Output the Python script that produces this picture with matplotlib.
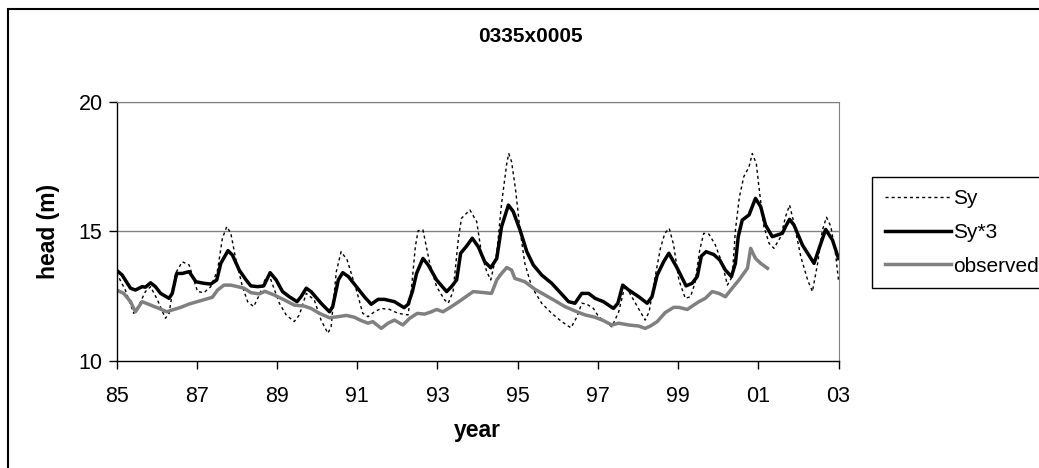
import matplotlib
matplotlib.use("Agg")
import matplotlib.pyplot as plt
from matplotlib.patches import Rectangle

plt.rcParams["font.family"] = ["Liberation Sans", "DejaVu Sans"]

# ---- data: decimal year vs. head (m) ------------------------------------
t_sy = [1985.0, 1985.22, 1985.43, 1985.56, 1985.72, 1985.85, 1986.02, 1986.22,
        1986.31, 1986.47, 1986.64, 1986.81, 1987.02, 1987.18, 1987.35, 1987.52,
        1987.64, 1987.75, 1987.85, 1987.97, 1988.14, 1988.27, 1988.42, 1988.56,
        1988.7, 1988.81, 1989.06, 1989.23, 1989.43, 1989.56, 1989.73, 1989.93,
        1990.1, 1990.27, 1990.35, 1990.48, 1990.6, 1990.75, 1990.98, 1991.14,
        1991.27, 1991.43, 1991.6, 1991.81, 1992.02, 1992.27, 1992.35, 1992.45,
        1992.52, 1992.64, 1992.81, 1992.98, 1993.18, 1993.27, 1993.39, 1993.52,
        1993.6, 1993.81, 1993.98, 1994.1, 1994.23, 1994.33, 1994.48, 1994.6,
        1994.73, 1994.78, 1994.85, 1994.95, 1995.06, 1995.18, 1995.35, 1995.6,
        1995.85, 1996.1, 1996.33, 1996.48, 1996.6, 1996.72, 1996.89, 1997.02,
        1997.18, 1997.35, 1997.52, 1997.68, 1997.89, 1998.06, 1998.18, 1998.28,
        1998.43, 1998.56, 1998.67, 1998.78, 1998.89, 1999.02, 1999.18, 1999.31,
        1999.42, 1999.54, 1999.64, 1999.77, 1999.93, 2000.1, 2000.23, 2000.35,
        2000.43, 2000.53, 2000.64, 2000.77, 2000.85, 2000.95, 2001.03, 2001.14,
        2001.27, 2001.39, 2001.56, 2001.68, 2001.78, 2001.89, 2002.06, 2002.23,
        2002.35, 2002.48, 2002.6, 2002.7, 2002.81, 2002.93, 2003.0]
h_sy = [13.4, 12.74, 11.84, 12.16, 12.68, 12.87, 12.36, 11.65,
        11.84, 13.38, 13.83, 13.71, 12.68, 12.64, 12.87, 13.51,
        14.74, 15.19, 14.93, 13.96, 12.87, 12.29, 12.1, 12.55,
        13.13, 13.3, 12.23, 11.78, 11.52, 11.78, 12.61, 12.36,
        11.58, 11.07, 11.32, 13.45, 14.22, 13.9, 12.74, 11.84,
        11.71, 11.9, 12.03, 11.99, 11.84, 11.78, 12.74, 14.41,
        15.03, 15.06, 13.77, 12.87, 12.36, 12.23, 12.68, 14.67,
        15.51, 15.83, 15.38, 14.16, 13.45, 13.13, 14.16, 16.08,
        17.63, 18.01, 17.69, 16.6, 15.06, 13.77, 12.87, 12.23,
        11.84, 11.52, 11.28, 11.71, 12.23, 12.2, 12.03, 11.71,
        11.52, 11.32, 11.9, 12.93, 12.36, 11.9, 11.58, 11.9,
        13.26, 14.35, 14.93, 15.12, 14.48, 13.13, 12.42, 12.48,
        13.0, 14.28, 14.93, 14.9, 14.48, 13.77, 12.93, 13.26,
        15.06, 16.34, 17.12, 17.5, 18.01, 17.63, 16.54, 15.19,
        14.54, 14.35, 14.8, 15.57, 16.02, 15.32, 14.03, 13.13,
        12.68, 13.77, 15.06, 15.55, 15.19, 14.09, 13.13]

t_sy3 = [1985.0, 1985.14, 1985.35, 1985.47, 1985.64, 1985.72, 1985.85, 1985.97,
         1986.1, 1986.31, 1986.39, 1986.5, 1986.64, 1986.81, 1986.98, 1987.18,
         1987.35, 1987.5, 1987.6, 1987.78, 1987.89, 1988.06, 1988.23, 1988.35,
         1988.52, 1988.67, 1988.83, 1988.98, 1989.14, 1989.31, 1989.5, 1989.6,
         1989.73, 1989.85, 1990.1, 1990.31, 1990.39, 1990.53, 1990.64, 1990.78,
         1990.98, 1991.18, 1991.35, 1991.52, 1991.68, 1991.93, 1992.17, 1992.27,
         1992.38, 1992.48, 1992.64, 1992.77, 1992.98, 1993.23, 1993.35, 1993.48,
         1993.58, 1993.73, 1993.87, 1994.02, 1994.18, 1994.33, 1994.48, 1994.6,
         1994.77, 1994.89, 1995.06, 1995.23, 1995.39, 1995.6, 1995.85, 1996.1,
         1996.27, 1996.43, 1996.6, 1996.77, 1996.93, 1997.14, 1997.39, 1997.5,
         1997.62, 1997.77, 1998.02, 1998.23, 1998.35, 1998.48, 1998.64, 1998.77,
         1998.98, 1999.2, 1999.35, 1999.48, 1999.58, 1999.7, 1999.89, 2000.04,
         2000.18, 2000.33, 2000.43, 2000.5, 2000.6, 2000.77, 2000.93, 2001.06,
         2001.18, 2001.35, 2001.6, 2001.68, 2001.78, 2001.89, 2002.1, 2002.39,
         2002.56, 2002.68, 2002.85, 2003.0]
h_sy3 = [13.51, 13.32, 12.81, 12.74, 12.87, 12.85, 13.02, 12.87,
         12.61, 12.42, 12.61, 13.38, 13.38, 13.45, 13.06, 13.0,
         12.97, 13.13, 13.77, 14.26, 14.09, 13.51, 13.13, 12.9,
         12.87, 12.9, 13.41, 13.13, 12.68, 12.48, 12.29, 12.48,
         12.81, 12.68, 12.23, 11.9, 12.1, 13.13, 13.41, 13.26,
         12.87, 12.48, 12.19, 12.38, 12.38, 12.29, 12.06, 12.19,
         12.7, 13.38, 13.96, 13.71, 13.13, 12.68, 12.87, 13.13,
         14.16, 14.44, 14.74, 14.41, 13.83, 13.6, 13.96, 15.19,
         16.02, 15.77, 15.06, 14.22, 13.71, 13.32, 13.0, 12.58,
         12.29, 12.23, 12.61, 12.61, 12.42, 12.29, 12.03, 12.23,
         12.93, 12.74, 12.48, 12.23, 12.48, 13.32, 13.83, 14.16,
         13.58, 12.9, 13.0, 13.26, 14.05, 14.22, 14.11, 13.9,
         13.51, 13.26, 13.77, 14.8, 15.44, 15.64, 16.28, 15.96,
         15.25, 14.8, 14.93, 15.19, 15.47, 15.25, 14.48, 13.77,
         14.54, 15.08, 14.67, 13.96]

t_obs = [1985.0, 1985.18, 1985.35, 1985.47, 1985.64, 1985.85, 1986.06, 1986.25,
         1986.39, 1986.6, 1986.81, 1987.1, 1987.39, 1987.52, 1987.68, 1987.85,
         1988.02, 1988.18, 1988.35, 1988.56, 1988.7, 1988.93, 1989.18, 1989.43,
         1989.68, 1989.85, 1990.06, 1990.31, 1990.52, 1990.73, 1990.93, 1991.1,
         1991.27, 1991.39, 1991.6, 1991.77, 1991.93, 1992.14, 1992.31, 1992.5,
         1992.68, 1992.85, 1992.98, 1993.14, 1993.35, 1993.6, 1993.89, 1994.1,
         1994.35, 1994.48, 1994.6, 1994.73, 1994.85, 1994.93, 1995.18, 1995.43,
         1995.68, 1995.93, 1996.18, 1996.33, 1996.48, 1996.68, 1996.93, 1997.14,
         1997.35, 1997.52, 1997.77, 1998.02, 1998.18, 1998.31, 1998.48, 1998.68,
         1998.89, 1999.02, 1999.23, 1999.39, 1999.52, 1999.68, 1999.85, 2000.02,
         2000.18, 2000.35, 2000.52, 2000.73, 2000.81, 2000.93, 2001.06, 2001.23]
h_obs = [12.74, 12.61, 12.29, 11.9, 12.29, 12.16, 12.03, 11.9,
         11.97, 12.07, 12.2, 12.33, 12.46, 12.74, 12.93, 12.93,
         12.87, 12.81, 12.64, 12.59, 12.69, 12.55, 12.36, 12.16,
         12.12, 12.03, 11.84, 11.67, 11.71, 11.76, 11.69, 11.56,
         11.46, 11.52, 11.26, 11.46, 11.58, 11.39, 11.65, 11.84,
         11.81, 11.9, 11.99, 11.9, 12.1, 12.36, 12.68, 12.65,
         12.61, 13.13, 13.38, 13.61, 13.51, 13.19, 13.06, 12.77,
         12.55, 12.33, 12.1, 12.0, 11.9, 11.78, 11.69, 11.56,
         11.39, 11.46, 11.39, 11.35, 11.26, 11.35, 11.52, 11.87,
         12.07, 12.07, 11.99, 12.16, 12.29, 12.42, 12.68, 12.61,
         12.48, 12.81, 13.13, 13.58, 14.35, 13.96, 13.77, 13.58]

xtick_years = [1985, 1987, 1989, 1991, 1993, 1995, 1997, 1999, 2001, 2003]
xtick_labels = ["85", "87", "89", "91", "93", "95", "97", "99", "01", "03"]
ytick_vals = [10, 15, 20]

GRAY = "#808080"
W, H = 1039, 468

fig = plt.figure(figsize=(W / 100, H / 100), dpi=100)
ax = fig.add_axes([116.5 / W, 1 - 361 / H, (838.5 - 116.5) / W, (361 - 102) / H])

ax.plot(t_sy, h_sy, color="black", linewidth=1.0, linestyle=(0, (2.2, 2.2)), label="Sy")
ax.plot(t_sy3, h_sy3, color="black", linewidth=2.5, label="Sy*3")
ax.plot(t_obs, h_obs, color=GRAY, linewidth=2.5, label="observed")

ax.set_xlim(1985, 2003)
ax.set_ylim(10, 20)
ax.set_xticks(xtick_years)
ax.set_xticklabels(xtick_labels)
ax.set_yticks(ytick_vals)
ax.tick_params(axis="both", direction="out", length=6, width=1, labelsize=15.5)
ax.tick_params(axis="x", pad=12)
ax.tick_params(axis="y", pad=4)

for y in ytick_vals[1:]:
    ax.axhline(y, color=GRAY, linewidth=1, zorder=0.5)
for side in ("top", "right"):
    ax.spines[side].set_color(GRAY)
for side in ("left", "bottom"):
    ax.spines[side].set_color("black")
    ax.spines[side].set_linewidth(1)

ax.set_xlabel("year", fontsize=16.5, fontweight="bold", labelpad=9)
ax.set_ylabel("head (m)", fontsize=16.5, fontweight="bold", labelpad=13)

fig.text(530 / W, 1 - 37 / H, "0335x0005", fontsize=15, fontweight="bold",
         ha="center", va="center")

leg = fig.legend(loc="upper left", bbox_to_anchor=(872 / W, 1 - 177 / H),
                 borderaxespad=0, fontsize=15, frameon=True, fancybox=False,
                 framealpha=1, edgecolor="black", handlelength=3.2,
                 handletextpad=0.1, labelspacing=0.7, borderpad=0.6)
leg.get_frame().set_linewidth(1)

# chart-area border, open to the right and bottom
fig.patches.append(Rectangle((8 / W, -0.1), 1.2, 1.1 - 9 / H, transform=fig.transFigure,
                             fill=False, edgecolor="black", linewidth=1.5))

fig.savefig("out.png", dpi=100)
